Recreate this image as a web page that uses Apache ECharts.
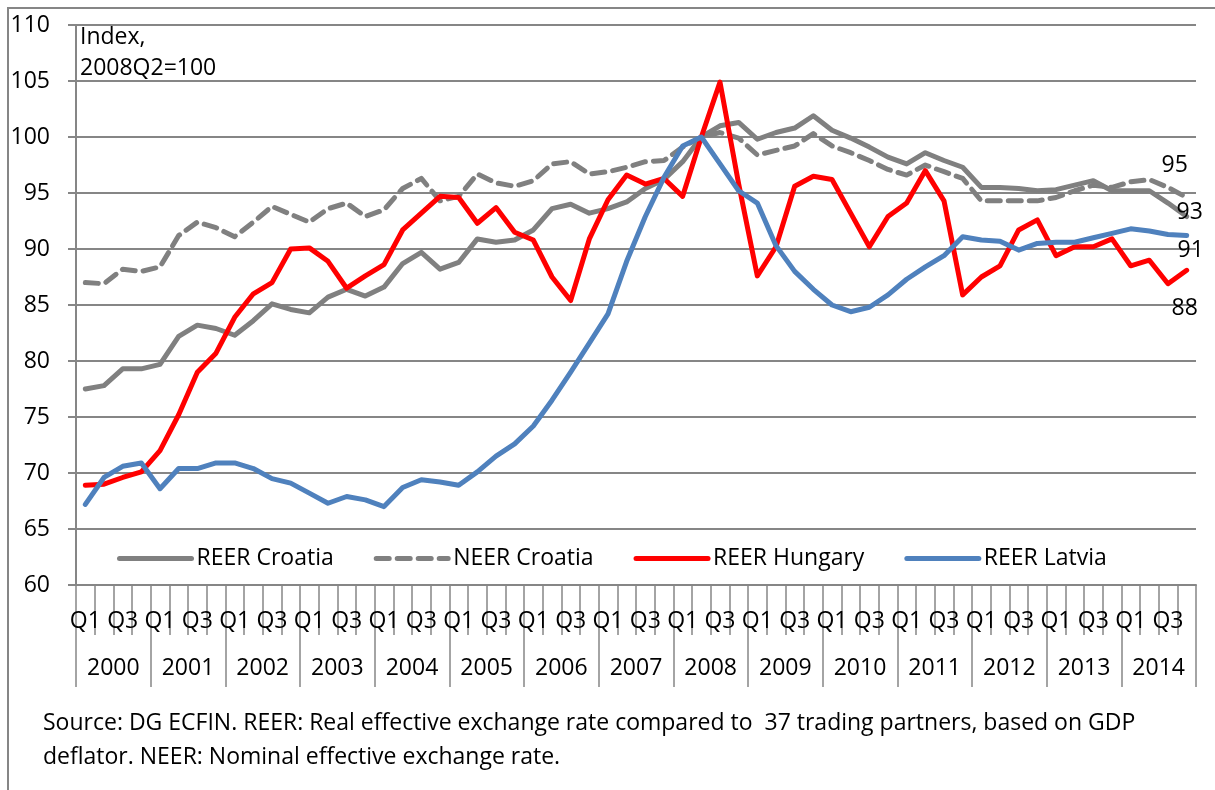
<!DOCTYPE html>
<html>
<head>
<meta charset="utf-8">
<script src="https://cdn.jsdelivr.net/npm/echarts@6/dist/echarts.min.js"></script>
<style>
  html, body { margin: 0; padding: 0; background: #fff; }
  #chart { width: 1215px; height: 790px; }
</style>
</head>
<body>
<div id="chart"></div>
<script>
// quarterly data, 2000Q1 .. 2014Q4, index 2008Q2 = 100
var years = ['2000', '2001', '2002', '2003', '2004', '2005', '2006', '2007',
  '2008', '2009', '2010', '2011', '2012', '2013', '2014'];
var quarters = ['Q1', 'Q2', 'Q3', 'Q4'];

var reerCroatia = [77.5, 77.8, 79.3, 79.3, 79.7, 82.2, 83.2, 82.9, 82.3, 83.6,
  85.1, 84.6, 84.3, 85.7, 86.4, 85.8, 86.6, 88.7, 89.7, 88.2,
  88.8, 90.9, 90.6, 90.8, 91.7, 93.6, 94.0, 93.2, 93.6, 94.2,
  95.4, 96.2, 97.8, 100, 101.0, 101.3, 99.8, 100.4, 100.8, 101.9,
  100.6, 99.9, 99.1, 98.2, 97.6, 98.6, 97.9, 97.3, 95.5, 95.5,
  95.4, 95.2, 95.3, 95.7, 96.1, 95.2, 95.2, 95.2, 94.1, 92.9];

var neerCroatia = [87.0, 86.9, 88.2, 88.0, 88.4, 91.2, 92.4, 91.9, 91.1, 92.4,
  93.8, 93.1, 92.4, 93.6, 94.1, 92.9, 93.5, 95.4, 96.3, 94.3,
  94.7, 96.7, 95.9, 95.6, 96.1, 97.6, 97.8, 96.7, 96.9, 97.3,
  97.8, 97.9, 99.1, 100, 100.4, 99.9, 98.4, 98.8, 99.2, 100.3,
  99.2, 98.6, 97.9, 97.1, 96.6, 97.5, 96.9, 96.3, 94.3, 94.3,
  94.3, 94.3, 94.6, 95.2, 95.7, 95.5, 96.0, 96.2, 95.5, 94.6];

var reerHungary = [68.9, 69.0, 69.6, 70.1, 72.0, 75.2, 79.0, 80.7, 83.9, 86.0,
  87.0, 90.0, 90.1, 88.9, 86.5, 87.6, 88.6, 91.7, 93.2, 94.7,
  94.6, 92.3, 93.7, 91.5, 90.8, 87.5, 85.4, 90.9, 94.4, 96.6,
  95.8, 96.3, 94.7, 100, 104.9, 95.8, 87.6, 90.2, 95.6, 96.5,
  96.2, 93.2, 90.2, 92.9, 94.1, 97.0, 94.3, 85.9, 87.5, 88.5,
  91.7, 92.6, 89.4, 90.2, 90.2, 90.9, 88.5, 89.0, 86.9, 88.1];

var reerLatvia = [67.2, 69.6, 70.6, 70.9, 68.6, 70.4, 70.4, 70.9, 70.9, 70.4,
  69.5, 69.1, 68.2, 67.3, 67.9, 67.6, 67.0, 68.7, 69.4, 69.2,
  68.9, 70.1, 71.5, 72.6, 74.2, 76.5, 79.0, 81.6, 84.2, 88.9,
  92.9, 96.4, 99.2, 100, 97.6, 95.2, 94.1, 90.3, 88.0, 86.4,
  85.0, 84.4, 84.8, 85.9, 87.3, 88.4, 89.4, 91.1, 90.8, 90.7,
  89.9, 90.5, 90.6, 90.6, 91.0, 91.4, 91.8, 91.6, 91.3, 91.2];

var categories = [];
years.forEach(function (y) {
  quarters.forEach(function (q) { categories.push(y + q); });
});

var FONT = 'Open Sans';
var AXIS_GREY = '#868686';

var chart = echarts.init(document.getElementById('chart'));

function lineSeries(name, data, color, dashed, labelOffset) {
  return {
    name: name,
    type: 'line',
    data: data,
    symbol: 'none',
    xAxisIndex: 0,
    lineStyle: {
      color: color,
      width: 5,
      type: dashed ? [13, 8] : 'solid',
      cap: 'round',
      join: 'round'
    },
    itemStyle: { color: color },
    endLabel: {
      show: true,
      distance: 0,
      align: 'center',
      verticalAlign: 'middle',
      offset: labelOffset,
      color: '#000',
      fontFamily: FONT,
      fontSize: 23,
      formatter: function (p) { return String(Math.round(p.value)); }
    }
  };
}

chart.setOption({
  backgroundColor: '#fff',
  animation: false,
  textStyle: { fontFamily: FONT },
  grid: { left: 76, right: 19, top: 25, bottom: 205, containLabel: false },
  title: {
    text: 'Index,\n2008Q2=100',
    left: 80,
    top: 22,
    padding: 0,
    textStyle: { fontFamily: FONT, fontSize: 23, fontWeight: 'normal', color: '#000', lineHeight: 31 }
  },
  legend: {
    data: ['REER Croatia', 'NEER Croatia', 'REER Hungary', 'REER Latvia'],
    left: 112,
    top: 542,
    itemWidth: 72,
    itemHeight: 14,
    itemGap: 40,
    textStyle: { fontFamily: FONT, fontSize: 23, color: '#000' },
    lineStyle: { width: 5, cap: 'round' },
    itemStyle: { color: 'rgba(0,0,0,0)', borderColor: 'rgba(0,0,0,0)', borderWidth: 0 }
  },
  xAxis: [
    {
      type: 'category',
      data: categories,
      boundaryGap: true,
      axisLine: { show: true, lineStyle: { color: AXIS_GREY, width: 2 } },
      axisTick: { show: true, interval: 0, length: 50, lineStyle: { color: AXIS_GREY, width: 1.5 } },
      axisLabel: {
        interval: 1,
        margin: 25,
        color: '#000',
        fontFamily: FONT,
        fontSize: 23,
        formatter: function (v) { return v.slice(4); }
      }
    },
    {
      type: 'category',
      data: years,
      position: 'bottom',
      boundaryGap: true,
      axisLine: { show: false },
      axisTick: { show: true, interval: 0, length: 102, lineStyle: { color: AXIS_GREY, width: 1.5 } },
      axisLabel: { interval: 0, margin: 72, color: '#000', fontFamily: FONT, fontSize: 23 }
    }
  ],
  yAxis: {
    type: 'value',
    min: 60,
    max: 110,
    interval: 5,
    axisLine: { show: true, lineStyle: { color: AXIS_GREY, width: 2 } },
    axisTick: { show: true, length: 8, lineStyle: { color: AXIS_GREY, width: 2 } },
    splitLine: { show: true, lineStyle: { color: AXIS_GREY, width: 2 } },
    axisLabel: { margin: 26, color: '#000', fontFamily: FONT, fontSize: 23 }
  },
  graphic: [
    {
      type: 'rect',
      shape: { x: 8, y: 8, width: 1400, height: 1000 },
      style: { fill: 'none', stroke: AXIS_GREY, lineWidth: 2 },
      silent: true
    },
    {
      type: 'text',
      left: 43,
      top: 706,
      style: {
        text: 'Source: DG ECFIN. REER: Real effective exchange rate compared to  37 trading partners, based on GDP\ndeflator. NEER: Nominal effective exchange rate.',
        fontFamily: FONT,
        fontSize: 23,
        lineHeight: 34,
        fill: '#000'
      }
    }
  ],
  series: [
    lineSeries('REER Croatia', reerCroatia, '#808080', false, [3, -4]),
    lineSeries('NEER Croatia', neerCroatia, '#808080', true, [-12, -32]),
    lineSeries('REER Hungary', reerHungary, '#ff0000', false, [-2, 38]),
    lineSeries('REER Latvia', reerLatvia, '#4f81bd', false, [4, 15])
  ]
});
</script>
</body>
</html>
